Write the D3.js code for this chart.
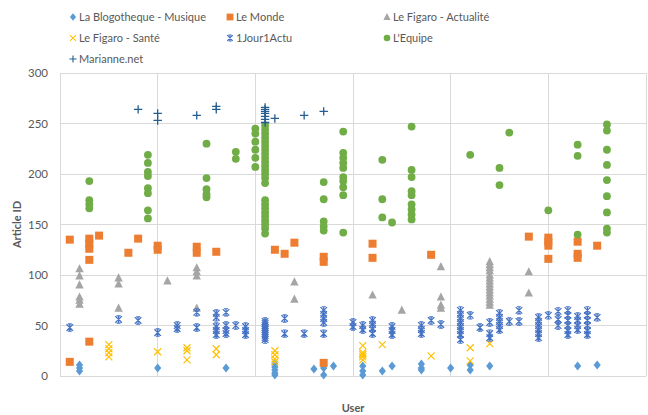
<!DOCTYPE html>
<html><head><meta charset="utf-8">
<script src="https://cdn.jsdelivr.net/npm/d3@7"></script>
<style>body{margin:0;background:#fff;}svg{display:block;font-family:Lato,"Open Sans",sans-serif;}</style>
</head><body><svg id="c" width="648" height="415"></svg>
<script>
// Each entry: [user, articleId, ...]  (first = user index, rest = article IDs)
const blogotheque = [[2,11,8,5],[10,8],[17,8],[22,12,9,6,3,1],[26,7],[27,8,1],[28,10],[31,10,5,1],[33,5],[34,10],[37,12,8,6],[40,8],[42,11,6],[44,10],[53,10],[55,11]];
const leMonde = [[1,135,14],[3,136,131,126,115,34],[4,139],[7,122],[8,136],[10,129,125],[14,128,122],[16,123],[22,125],[23,121],[24,132],[27,118,113,13],[32,131,117],[38,120],[48,138],[50,137,133,129,116],[53,133,121,117],[55,129]];
const figaroActu = [[2,106,99,90,78,75,71],[6,97,91,67],[11,94],[14,107,103,99,67],[24,93,76],[32,80],[35,65],[39,108,78,70,67],[44,113,110,107,104,100,97,94,91,88,85,82,79,76,73,70],[48,103,82]];
const figaroSante = [[5,31,27,23,19],[10,24],[13,28,25,16],[16,27,21],[22,25,21,17,14],[31,30,23,21,19,16],[33,31],[38,20],[42,28,15],[44,32]];
const jour1Actu = [[1,48],[6,56],[8,55],[10,43],[12,50,47],[14,63,48],[16,62,58,49,45,41],[17,63,50,45,42],[18,50],[19,49,45,41],[21,54,52,50,48,46,44,42,40,38,36],[23,57,42],[25,42],[27,65,61,57,53,42],[30,53,49],[31,50,46],[32,55,51,47,42],[34,49,45,41],[37,50,46,42],[38,55],[39,51],[41,65,61,57,53,49,45,41,36],[42,60],[43,48],[44,53,42,38],[45,62,58,54,50,46],[46,54],[47,65,54],[49,58,54,50,46,42,38],[50,60],[51,64,56,50],[52,65,60,55,50,45,41],[53,59,55,50,46],[54,65,60,55,50,45,41],[55,58]];
const lEquipe = [[3,193,174,170,166],[9,219,211,202,198,186,181,164,156],[15,230,196,185,180,177],[18,222,215],[20,245,240,232,224,216,207],[21,248,244,240,236,232,228,224,220,216,212,208,204,200,196,191,174,170,166,162,158,154,150,146,141],[27,192,175,153,148,144],[29,242,221,216,211,206,197,193,187,179,142],[33,214,175,157],[34,152],[36,247,204,197,183,179,170,165,160,155],[42,219],[45,206,189],[46,241],[50,164],[53,229,218,140],[56,249,243,224,209,194,178,162,146,142]];
const marianne = [[8,264],[10,260,253],[14,258],[16,267,264],[21,266,264,262,260,257,254,251],[22,255],[25,258],[27,262]];

const seriesNames = ["La Blogotheque - Musique","Le Monde","Le Figaro - Actualité","Le Figaro - Santé","1Jour1Actu","L'Equipe","Marianne.net"];
const seriesData = [blogotheque, leMonde, figaroActu, figaroSante, jour1Actu, lEquipe, marianne];
const seriesColors = ["#5b9bd5","#ed7d31","#a5a5a5","#ffc000","#4472c4","#70ad47","#255e91"];
const seriesShapes = ["diamond","square","triangle","x","star","circle","plus"];
const yTicks = [0,50,100,150,200,250,300];
const xTicks = [0,10,20,30,40,50,60];

const svg = d3.select("#c");
const x = d3.scaleLinear().domain([0,60]).range([60,646]);
const y = d3.scaleLinear().domain([0,300]).range([376,73]);

// grid
svg.append("g").selectAll("line").data(yTicks).join("line")
  .attr("x1",x(0)).attr("x2",x(60)).attr("y1",d=>y(d)).attr("y2",d=>y(d))
  .attr("stroke","#d9d9d9").attr("stroke-width",1).attr("shape-rendering","crispEdges");
svg.append("g").selectAll("line").data(xTicks).join("line")
  .attr("x1",d=>x(d)).attr("x2",d=>x(d)).attr("y1",y(0)).attr("y2",y(300))
  .attr("stroke","#d9d9d9").attr("stroke-width",1).attr("shape-rendering","crispEdges");

// y axis labels
const yAxis = d3.axisLeft(y).tickValues(yTicks).tickSize(0).tickPadding(12);
const ga = svg.append("g").attr("transform",`translate(${x(0)},0)`).call(yAxis);
ga.select(".domain").remove();
ga.selectAll("text").attr("fill","#595959").style("font-size","11.5px").style("font-family","Lato,sans-serif");

// axis titles
svg.append("text").attr("transform",`translate(21,${(y(0)+y(300))/2}) rotate(-90)`)
  .attr("text-anchor","middle").attr("fill","#595959").style("font-size","11px").style("font-weight","bold").text("Article ID");
svg.append("text").attr("x",(x(0)+x(60))/2).attr("y",412).attr("text-anchor","middle")
  .attr("fill","#595959").style("font-size","11px").style("font-weight","bold").text("User");

function drawMarker(g, shape, color){
  switch(shape){
    case "diamond": g.append("path").attr("d","M0,-4.5L3.6,0L0,4.5L-3.6,0Z").attr("fill",color); break;
    case "square": g.append("rect").attr("x",-4).attr("y",-4).attr("width",8).attr("height",8).attr("fill",color); break;
    case "triangle": g.append("path").attr("d","M0,-4.8L4.2,3.4L-4.2,3.4Z").attr("fill",color); break;
    case "circle": g.append("circle").attr("r",3.9).attr("fill",color); break;
    case "x": g.append("path").attr("d","M-3.5,-3.5L3.5,3.5M3.5,-3.5L-3.5,3.5").attr("stroke",color).attr("stroke-width",1.2).attr("fill","none"); break;
    case "star": g.append("path").attr("d","M-3.3,-3.3L3.3,3.3M3.3,-3.3L-3.3,3.3M0,-3.8L0,3.8M-2,-3.6L2,-3.6M-2,3.6L2,3.6").attr("stroke",color).attr("stroke-width",1.2).attr("fill","none"); break;
    case "plus": g.append("path").attr("d","M-4.2,0L4.2,0M0,-4.2L0,4.2").attr("stroke",color).attr("stroke-width",1.3).attr("fill","none"); break;
  }
}

// points
seriesData.forEach((data,i)=>{
  const pts = [];
  data.forEach(row=>{ for(let k=1;k<row.length;k++) pts.push({u:row[0], v:row[k]}); });
  const g = svg.append("g");
  pts.forEach(p=>{
    const m = g.append("g").attr("transform",`translate(${x(p.u)},${y(p.v)})`);
    drawMarker(m, seriesShapes[i], seriesColors[i]);
  });
});

// legend
const legPos = [[73,17],[230,17],[387,17],[73,38],[230,38],[387,38],[73,59]];
seriesNames.forEach((n,i)=>{
  const g = svg.append("g").attr("transform",`translate(${legPos[i][0]},${legPos[i][1]})`);
  const m = g.append("g").attr("transform","scale(0.85)");
  drawMarker(m, seriesShapes[i], seriesColors[i]);
  g.append("text").attr("x",6).attr("y",4).attr("fill","#595959").style("font-size","11px").text(n);
});
</script></body></html>
